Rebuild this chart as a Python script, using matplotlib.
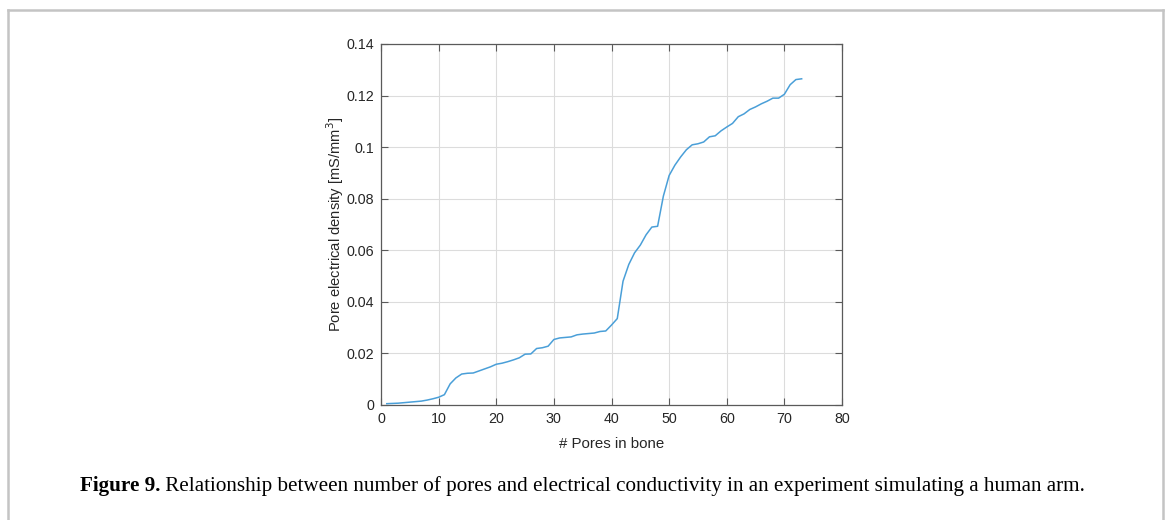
import numpy as np
import matplotlib.pyplot as plt
from matplotlib.lines import Line2D
from matplotlib.ticker import FuncFormatter

# number of pores and the electrical density measured for each
pores = list(range(1, 74))
density = [
    0.0005, 0.0006, 0.0007, 0.0009, 0.0011, 0.0013, 0.0015, 0.0019, 0.0024, 0.0030,
    0.0040, 0.0082, 0.0105, 0.0120, 0.0123, 0.0124, 0.0132, 0.0140, 0.0148, 0.0158,
    0.0162, 0.0168, 0.0175, 0.0183, 0.0197, 0.0198, 0.0219, 0.0222, 0.0228, 0.0254,
    0.0260, 0.0262, 0.0264, 0.0272, 0.0275, 0.0277, 0.0279, 0.0285, 0.0287, 0.0310,
    0.0335, 0.0480, 0.0545, 0.0590, 0.0620, 0.0660, 0.0690, 0.0693, 0.0810, 0.0890,
    0.0930, 0.0962, 0.0990, 0.1009, 0.1013, 0.1020, 0.1040, 0.1044, 0.1063, 0.1078,
    0.1092, 0.1118, 0.1129, 0.1146, 0.1156, 0.1168, 0.1178, 0.1190, 0.1190, 0.1205,
    0.1242, 0.1262, 0.1265,
]
xticks = [0, 10, 20, 30, 40, 50, 60, 70, 80]
yticks = [0, 0.02, 0.04, 0.06, 0.08, 0.1, 0.12, 0.14]

caption_bold = "Figure 9."
caption_text = (" Relationship between number of pores and electrical conductivity "
                "in an experiment simulating a human arm.")

plt.rcParams['font.family'] = ['Liberation Sans', 'DejaVu Sans']

fig = plt.figure(figsize=(11.67, 5.2), dpi=100)
ax = fig.add_axes([0.3265, 0.2212, 0.395, 0.6942])

ax.plot(pores, density, color='#4a9fd8', lw=1.1)

ax.set_xlim(0, 80)
ax.set_ylim(0, 0.14)
ax.set_xticks(xticks)
ax.set_yticks(yticks)
ax.yaxis.set_major_formatter(FuncFormatter(lambda v, p: '%g' % round(v, 4)))
ax.grid(True, color='#dcdcdc', lw=0.8)
ax.set_axisbelow(True)

for s in ax.spines.values():
    s.set_color('#5a5a5a')
    s.set_linewidth(0.9)
ax.tick_params(direction='in', length=5, width=0.8, color='#5a5a5a',
               labelsize=10.3, labelcolor='#262626', top=True, right=True, pad=5)

ax.set_xlabel('# Pores in bone', fontsize=10.8, color='#262626', labelpad=8)
ax.set_ylabel('Pore electrical density [mS/mm$^3$]', fontsize=10.6,
              color='#262626', labelpad=0)

# caption: bold label followed by regular text
cap_y = 1 - 486 / 520
t1 = fig.text(80 / 1167, cap_y, caption_bold, fontsize=15.2,
              family='Liberation Serif', weight='bold', va='center')
fig.canvas.draw()
bb = t1.get_window_extent()
fig.text(bb.x1 / fig.bbox.width, cap_y, caption_text, fontsize=15.2,
         family='Liberation Serif', va='center')

# open-bottom frame around the figure
W, H = 1167, 520
frame = [((8, 8), (520, 10)), ((8, 1163), (10, 10)), ((1163, 1163), (10, 520))]
for xs, ys in frame:
    fig.add_artist(Line2D([x / W for x in xs], [1 - y / H for y in ys],
                          color='#c4c4c4', lw=1.8, transform=fig.transFigure))

fig.savefig('out.png', dpi=100)
